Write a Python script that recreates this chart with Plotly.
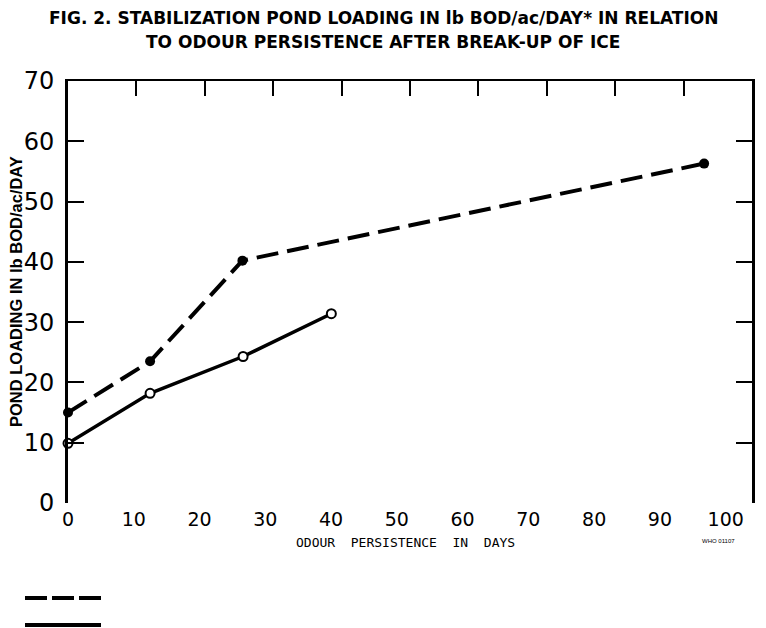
import plotly.graph_objects as go

# Data
dashed_x = [0, 12, 25.5, 93]
dashed_y = [15, 23.5, 40.2, 56.3]
solid_x = [0, 12, 25.6, 38.5]
solid_y = [9.9, 18.2, 24.3, 31.4]

x_tick_vals = [0, 10, 20, 30, 40, 50, 60, 70, 80, 90, 100]
x_tick_text = ["0", "10", "20", "30", "40", "50", "60", "70", "80", "90", "100"]
y_tick_vals = [0, 10, 20, 30, 40, 50, 60, 70]

title_line1 = "FIG. 2. STABILIZATION POND LOADING IN lb BOD/ac/DAY* IN RELATION"
title_line2 = "TO ODOUR PERSISTENCE AFTER BREAK-UP OF ICE"
x_title = "ODOUR  PERSISTENCE  IN  DAYS"
y_title = "POND LOADING IN lb BOD/ac/DAY"
code_text = "WHO 01107"

W, H = 766, 628
L, R, T, B = 68, 14, 81, 125
pw, ph = W - L - R, H - T - B


def px(xp):
    return (xp - L) / pw


def py(yp):
    return (H - B - yp) / ph


fig = go.Figure()

fig.add_trace(go.Scatter(
    x=dashed_x, y=dashed_y, mode="lines+markers",
    line=dict(color="black", width=4, dash="22px,9px"),
    marker=dict(symbol="circle", size=10, color="black"),
    showlegend=False, cliponaxis=False,
))
fig.add_trace(go.Scatter(
    x=solid_x, y=solid_y, mode="lines+markers",
    line=dict(color="black", width=3.5),
    marker=dict(symbol="circle", size=9, color="white",
                line=dict(color="black", width=2)),
    showlegend=False, cliponaxis=False,
))
# invisible trace for the bottom label axis
fig.add_trace(go.Scatter(x=[0, 100], y=[0, 0], xaxis="x2", mode="markers",
                         marker=dict(opacity=0), showlegend=False, hoverinfo="skip"))

fig.update_layout(
    width=W, height=H,
    margin=dict(l=L, r=R, t=T, b=B),
    paper_bgcolor="white", plot_bgcolor="white",
    font=dict(family="DejaVu Sans", color="black"),
    xaxis=dict(range=[0, 100], side="top", showline=True, linewidth=2, linecolor="black",
               ticks="inside", ticklen=15, tickwidth=2, tickcolor="black",
               tickvals=x_tick_vals, showticklabels=False, showgrid=False, zeroline=False),
    xaxis2=dict(range=[0, 104], overlaying="x", side="bottom", anchor="y",
                showline=False, ticks="", tickvals=x_tick_vals, ticktext=x_tick_text,
                tickfont=dict(family="DejaVu Sans", size=19, color="black"),
                showgrid=False, zeroline=False, ticklabelstandoff=3),
    yaxis=dict(range=[0, 70], showline=True, linewidth=3, linecolor="black", mirror="ticks",
               ticks="inside", ticklen=16, tickwidth=2, tickcolor="black",
               tickvals=y_tick_vals,
               tickfont=dict(family="DejaVu Sans", size=24, color="black"),
               showgrid=False, zeroline=False, ticklabelstandoff=6),
)

title_font = dict(family="DejaVu Sans", size=17, color="black", weight="bold")
fig.add_annotation(text=title_line1, xref="paper", yref="paper", x=px(383), y=py(18),
                   showarrow=False, xanchor="center", yanchor="middle", font=title_font)
fig.add_annotation(text=title_line2, xref="paper", yref="paper", x=px(383), y=py(42),
                   showarrow=False, xanchor="center", yanchor="middle", font=title_font)

fig.add_annotation(text=y_title, xref="paper", yref="paper", x=px(16), y=py(292),
                   textangle=-90, showarrow=False, xanchor="center", yanchor="middle",
                   font=dict(family="Liberation Sans", size=16.5,
                             color="black", weight="bold"))
fig.add_annotation(text=x_title, xref="paper", yref="paper", x=px(405), y=py(542),
                   showarrow=False, xanchor="center", yanchor="middle",
                   font=dict(family="DejaVu Sans Mono", size=13, color="black"))
fig.add_annotation(text=code_text, xref="paper", yref="paper", x=px(718), y=py(541),
                   showarrow=False, xanchor="center", yanchor="middle",
                   font=dict(family="Liberation Sans", size=6, color="black"))

# legend samples
fig.add_shape(type="line", xref="paper", yref="paper", x0=px(25), x1=px(101),
              y0=py(598), y1=py(598), line=dict(color="black", width=4, dash="22px,5px"))
fig.add_shape(type="line", xref="paper", yref="paper", x0=px(25), x1=px(101),
              y0=py(625), y1=py(625), line=dict(color="black", width=4))

fig.write_html("out.html")
